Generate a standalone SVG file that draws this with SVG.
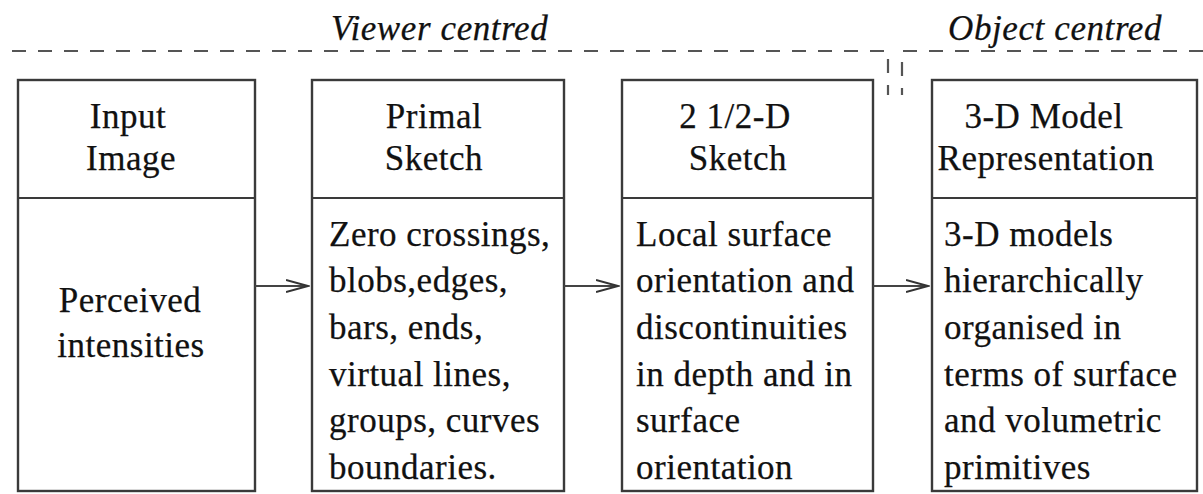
<svg xmlns="http://www.w3.org/2000/svg" width="1203" height="494" viewBox="0 0 1203 494">
<style>
.box{fill:#fff;stroke:#3a3a3a;stroke-width:2.4}
.div{stroke:#3a3a3a;stroke-width:2}
.t{font-family:"Liberation Serif","Times New Roman",serif;font-size:35px;fill:#111;stroke:#111;stroke-width:0.25;letter-spacing:0.5px}
.c{text-anchor:middle}
.it{font-style:italic;letter-spacing:0.6px}
.dash{fill:none;stroke:#555;stroke-width:2.2;stroke-dasharray:14 12}
.conn{fill:none;stroke:#444;stroke-width:2}
</style>
<defs>
<marker id="ah" markerWidth="24" markerHeight="14" refX="22" refY="7" orient="auto" markerUnits="userSpaceOnUse">
<path d="M0,1 L22,7 L0,13" fill="none" stroke="#333" stroke-width="2"/>
</marker>
</defs>
<g id="frame">
<text class="t it" x="331" y="40">Viewer centred</text>
<text class="t it" x="948" y="40">Object centred</text>
<path class="dash" d="M12,51 H888 V95"/>
<path class="dash" d="M1203,51 H902 V95"/>
</g>
<g id="n1">
<rect class="box" x="18" y="80" width="237" height="411"/>
<line class="div" x1="18" y1="198" x2="255" y2="198"/>
<text class="t c" x="128" y="128">Input</text>
<text class="t c" x="131" y="170">Image</text>
<text class="t c" x="130" y="312">Perceived</text>
<text class="t c" x="131" y="357">intensities</text>
</g>
<g id="n2">
<rect class="box" x="312" y="80" width="252" height="411"/>
<line class="div" x1="312" y1="198" x2="564" y2="198"/>
<text class="t c" x="434" y="128">Primal</text>
<text class="t c" x="434" y="170">Sketch</text>
<text class="t" x="329" y="246">Zero crossings,</text>
<text class="t" x="329" y="292">blobs,edges,</text>
<text class="t" x="329" y="339">bars, ends,</text>
<text class="t" x="329" y="386">virtual lines,</text>
<text class="t" x="329" y="432">groups, curves</text>
<text class="t" x="329" y="479">boundaries.</text>
</g>
<g id="n3">
<rect class="box" x="622" y="80" width="251" height="411"/>
<line class="div" x1="622" y1="198" x2="873" y2="198"/>
<text class="t c" x="735" y="128">2 1/2-D</text>
<text class="t c" x="738" y="170">Sketch</text>
<text class="t" x="636" y="246">Local surface</text>
<text class="t" x="636" y="292">orientation and</text>
<text class="t" x="636" y="339">discontinuities</text>
<text class="t" x="636" y="386">in depth and in</text>
<text class="t" x="636" y="432">surface</text>
<text class="t" x="636" y="479">orientation</text>
</g>
<g id="n4">
<rect class="box" x="932" y="80" width="265" height="411"/>
<line class="div" x1="932" y1="198" x2="1197" y2="198"/>
<text class="t c" x="1044" y="128">3-D Model</text>
<text class="t c" x="1046" y="170">Representation</text>
<text class="t" x="944" y="246">3-D models</text>
<text class="t" x="944" y="292">hierarchically</text>
<text class="t" x="944" y="339">organised in</text>
<text class="t" x="944" y="386">terms of surface</text>
<text class="t" x="944" y="432">and volumetric</text>
<text class="t" x="944" y="479">primitives</text>
</g>
<g id="connectors">
<line class="conn" x1="255" y1="286" x2="308" y2="286" marker-end="url(#ah)"/>
<line class="conn" x1="564" y1="286" x2="618" y2="286" marker-end="url(#ah)"/>
<line class="conn" x1="873" y1="286" x2="928" y2="286" marker-end="url(#ah)"/>
</g>
</svg>
